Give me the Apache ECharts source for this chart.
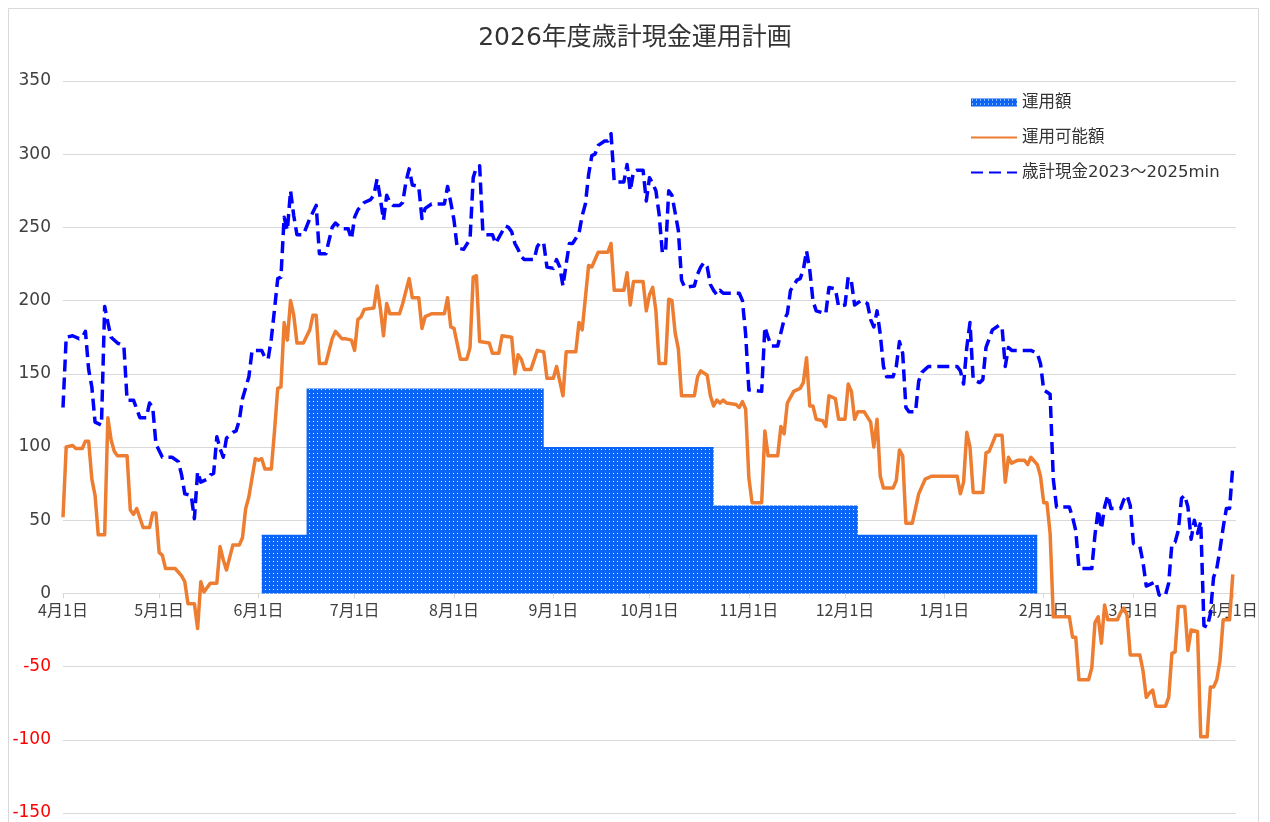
<!DOCTYPE html>
<html>
<head>
<meta charset="utf-8">
<title>2026年度歳計現金運用計画</title>
<script src="https://cdn.jsdelivr.net/npm/echarts@6/dist/echarts.min.js"></script>
<style>
  html, body { margin: 0; padding: 0; background: #fff; }
  #chart { width: 1270px; height: 822px; }
</style>
</head>
<body>
<div id="chart"></div>
<script>
// 日付は 2026年4月1日 からの経過日数
const startYear = 2026, startMonth = 3, startDay = 1;

// 運用額（階段状）
const opDays = [62, 76, 150, 203, 248, 304];
const opVals = [40, 140, 100, 60, 40, 40];

// 運用可能額
const availDays = [0, 1, 3, 4, 6, 7, 8, 9, 10, 11, 13, 14, 15, 16, 17, 20, 21, 22, 23, 25, 27, 28, 29, 30, 31, 32, 35, 37, 38, 39, 41, 42, 43, 44, 45, 46, 48, 49, 50, 51, 53, 55, 56, 57, 58, 60, 61, 62, 63, 65, 66, 67, 68, 69, 70, 71, 72, 73, 75, 77, 78, 79, 80, 82, 84, 85, 87, 88, 90, 91, 92, 93, 94, 97, 98, 99, 100, 101, 102, 105, 106, 108, 109, 111, 112, 113, 115, 119, 120, 121, 122, 124, 126, 127, 128, 129, 130, 133, 134, 136, 137, 140, 141, 142, 143, 144, 146, 148, 150, 151, 153, 154, 156, 157, 160, 161, 162, 164, 165, 167, 170, 171, 172, 175, 176, 177, 178, 181, 182, 183, 184, 185, 186, 188, 189, 190, 191, 192, 193, 197, 198, 199, 201, 202, 203, 204, 205, 206, 207, 210, 211, 212, 213, 214, 215, 218, 219, 220, 223, 224, 225, 226, 228, 230, 231, 232, 233, 234, 235, 237, 238, 239, 241, 242, 244, 245, 246, 247, 248, 250, 252, 253, 254, 255, 256, 259, 260, 261, 262, 263, 265, 267, 269, 271, 279, 280, 281, 282, 283, 284, 287, 288, 289, 291, 293, 294, 295, 296, 298, 300, 301, 302, 304, 305, 306, 307, 308, 309, 314, 315, 316, 317, 320, 321, 322, 323, 324, 325, 326, 329, 330, 331, 332, 333, 336, 337, 338, 339, 340, 341, 344, 345, 346, 347, 348, 350, 351, 352, 354, 355, 357, 358, 359, 360, 361, 362, 364, 365];
const availVals = [52, 100, 101, 99, 99, 104, 104, 78, 67, 40, 40, 120, 105, 97, 94, 94, 57, 54, 58, 45, 45, 55, 55, 28, 26, 17, 17, 12, 8, -7, -7, -24, 8, 1, 4, 7, 7, 32, 23, 16, 33, 33, 38, 58, 66, 92, 91, 92, 85, 85, 111, 140, 141, 185, 173, 200, 190, 171, 171, 180, 190, 190, 157, 157, 174, 179, 174, 174, 173, 166, 187, 189, 194, 195, 210, 195, 176, 198, 191, 191, 198, 215, 202, 202, 181, 189, 191, 191, 202, 182, 181, 160, 160, 168, 216, 217, 172, 171, 164, 164, 176, 175, 150, 163, 160, 153, 153, 166, 165, 147, 147, 155, 135, 165, 165, 185, 180, 224, 223, 233, 233, 239, 207, 207, 219, 197, 213, 213, 193, 204, 209, 193, 157, 157, 201, 200, 178, 167, 135, 135, 148, 152, 149, 135, 128, 132, 130, 132, 130, 129, 127, 131, 126, 79, 62, 62, 111, 94, 94, 114, 109, 130, 138, 140, 144, 161, 128, 128, 119, 118, 114, 135, 133, 119, 119, 143, 138, 119, 124, 124, 117, 100, 119, 80, 72, 72, 77, 98, 94, 48, 48, 68, 78, 80, 80, 68, 76, 110, 100, 69, 69, 96, 97, 108, 108, 76, 93, 89, 91, 91, 88, 93, 88, 80, 62, 62, 41, -16, -16, -30, -30, -59, -59, -51, -20, -16, -34, -8, -18, -18, -13, -10, -15, -42, -42, -53, -71, -68, -66, -77, -77, -71, -41, -40, -9, -9, -39, -25, -26, -98, -98, -64, -64, -59, -46, -18, -18, 13];

// 歳計現金2023～2025min
const cashDays = [0, 1, 3, 5, 6, 7, 8, 9, 10, 12, 13, 14, 15, 17, 19, 20, 22, 24, 26, 27, 28, 29, 31, 34, 36, 37, 38, 40, 41, 42, 43, 45, 46, 47, 48, 49, 50, 51, 53, 54, 55, 56, 58, 59, 62, 63, 64, 65, 66, 67, 68, 69, 70, 71, 72, 73, 75, 77, 79, 80, 82, 84, 85, 87, 89, 90, 91, 92, 94, 96, 97, 98, 99, 100, 101, 102, 103, 105, 106, 107, 108, 109, 111, 112, 113, 115, 119, 120, 121, 122, 123, 125, 127, 128, 129, 130, 131, 132, 134, 135, 136, 138, 139, 140, 141, 142, 143, 144, 147, 148, 149, 150, 151, 153, 154, 155, 156, 157, 158, 159, 161, 162, 163, 164, 165, 166, 167, 169, 170, 171, 172, 175, 176, 177, 178, 179, 181, 182, 183, 184, 185, 186, 187, 188, 189, 190, 192, 193, 194, 197, 198, 199, 200, 201, 202, 203, 204, 205, 206, 211, 212, 213, 214, 218, 219, 220, 221, 223, 225, 226, 227, 229, 230, 231, 232, 233, 234, 235, 238, 239, 241, 242, 244, 245, 246, 247, 249, 251, 252, 253, 254, 255, 256, 257, 259, 260, 261, 262, 263, 264, 266, 267, 268, 270, 279, 280, 281, 282, 283, 284, 286, 287, 288, 289, 290, 292, 293, 294, 295, 296, 302, 304, 305, 306, 308, 309, 310, 314, 315, 316, 317, 321, 322, 323, 324, 325, 326, 327, 330, 331, 332, 333, 334, 336, 337, 338, 340, 341, 342, 343, 344, 345, 346, 347, 348, 349, 350, 351, 352, 353, 354, 355, 356, 357, 358, 359, 360, 361, 362, 363, 364, 365];
const cashVals = [127, 175, 176, 174, 175, 179, 153, 141, 117, 115, 196, 185, 175, 171, 169, 132, 132, 120, 120, 130, 127, 102, 93, 93, 90, 81, 68, 67, 51, 83, 76, 78, 81, 82, 107, 99, 93, 106, 110, 111, 118, 133, 148, 166, 166, 161, 160, 174, 194, 215, 216, 257, 248, 275, 258, 245, 245, 256, 265, 232, 232, 250, 253, 249, 249, 242, 257, 262, 267, 269, 272, 283, 270, 255, 272, 267, 265, 265, 267, 281, 290, 279, 278, 256, 263, 266, 266, 278, 267, 255, 236, 235, 242, 284, 291, 292, 247, 245, 245, 239, 243, 251, 250, 247, 239, 235, 230, 228, 228, 237, 240, 239, 223, 222, 228, 223, 210, 225, 239, 239, 246, 258, 266, 286, 299, 300, 306, 309, 309, 314, 281, 281, 293, 275, 288, 289, 289, 268, 284, 280, 275, 259, 233, 233, 275, 272, 248, 214, 209, 210, 218, 223, 226, 223, 211, 207, 204, 207, 205, 205, 200, 177, 139, 138, 182, 175, 169, 169, 187, 191, 207, 214, 215, 221, 234, 221, 200, 193, 191, 209, 208, 196, 197, 216, 213, 197, 200, 198, 187, 182, 193, 177, 155, 148, 148, 155, 172, 164, 127, 124, 124, 145, 151, 155, 155, 152, 143, 168, 185, 146, 144, 146, 168, 174, 180, 183, 182, 155, 168, 166, 166, 164, 157, 139, 136, 78, 59, 59, 52, 43, 17, 17, 40, 57, 44, 59, 67, 58, 58, 64, 67, 60, 34, 32, 21, 5, 7, 8, -1, -2, -1, 7, 34, 35, 43, 65, 67, 59, 37, 50, 41, 49, -22, -23, -14, 11, 17, 30, 45, 58, 58, 87];

// 縦軸
const yMin = -150, yMax = 350, yStep = 50;

const gridTop = 81, gridBottom = 9, chartHeight = 822;
const gridHeight = chartHeight - gridTop - gridBottom;
// 横軸を0の位置に置く（ラベルごと）
const xAxisOffset = -gridHeight * (0 - yMin) / (yMax - yMin);

function dayToTime(d) {
  return new Date(startYear, startMonth, startDay + d).getTime();
}
function pairs(days, vals) {
  return days.map(function (d, i) { return [dayToTime(d), vals[i]]; });
}

// 運用額のドット模様
const pat = document.createElement('canvas');
pat.width = 4;
pat.height = 4;
const pctx = pat.getContext('2d');
pctx.fillStyle = '#0A64F5';
pctx.fillRect(0, 0, 4, 4);
pctx.fillStyle = '#ffffff';
pctx.fillRect(1, 1, 1, 1);
const dotFill = { image: pat, repeat: 'repeat' };

const noMarker = { color: 'rgba(0,0,0,0)', borderWidth: 0, opacity: 0 };

const chart = echarts.init(document.getElementById('chart'), null, { renderer: 'canvas' });

const option = {
  animation: false,
  backgroundColor: '#fff',
  textStyle: { fontFamily: '"DejaVu Sans", "Noto Sans CJK JP", sans-serif' },
  title: {
    text: '2026年度歳計現金運用計画',
    left: 'center',
    top: 21,
    textStyle: { fontSize: 25, fontWeight: 'normal', color: '#333' }
  },
  graphic: [{
    type: 'rect',
    shape: { x: 8.5, y: 8.5, width: 1250, height: 840 },
    style: { fill: 'none', stroke: '#d9d9d9', lineWidth: 1 },
    silent: true,
    z: -10
  }],
  legend: {
    orient: 'vertical',
    left: 970,
    top: 94,
    padding: 0,
    itemWidth: 46,
    itemHeight: 8,
    itemGap: 18,
    textStyle: { fontSize: 16.5, color: '#333', lineHeight: 17 },
    data: [
      { name: '運用額', icon: 'rect', itemStyle: { color: dotFill } },
      { name: '運用可能額', itemStyle: noMarker },
      { name: '歳計現金2023～2025min', itemStyle: noMarker }
    ]
  },
  grid: { left: 63, right: 34, top: gridTop, bottom: gridBottom, containLabel: false, outerBoundsMode: 'none' },
  xAxis: {
    type: 'time',
    min: dayToTime(0),
    max: dayToTime(366),
    splitNumber: 12,
    offset: xAxisOffset,
    axisLine: { onZero: false, lineStyle: { color: '#d9d9d9', width: 1 } },
    axisTick: { show: true, length: 5, lineStyle: { color: '#d9d9d9' } },
    splitLine: { show: false },
    axisLabel: {
      formatter: '{M}月{d}日',
      fontFamily: '"Noto Sans CJK JP", sans-serif',
      fontSize: 16,
      color: '#404040',
      margin: 9,
      showMinLabel: true,
      showMaxLabel: false,
      hideOverlap: false
    }
  },
  yAxis: {
    type: 'value',
    min: yMin,
    max: yMax,
    interval: yStep,
    axisLine: { show: false },
    axisTick: { show: false },
    splitLine: { lineStyle: { color: '#d9d9d9', width: 1 } },
    axisLabel: {
      fontSize: 17,
      margin: 12,
      color: function (v) { return v < 0 ? '#FF0000' : '#404040'; }
    }
  },
  series: [
    {
      name: '運用額',
      type: 'line',
      step: 'end',
      symbol: 'none',
      data: pairs(opDays, opVals),
      lineStyle: { width: 0 },
      itemStyle: { color: '#0A64F5' },
      areaStyle: { color: dotFill, opacity: 1 },
      z: 1
    },
    {
      name: '運用可能額',
      type: 'line',
      symbol: 'none',
      data: pairs(availDays, availVals),
      lineStyle: { color: '#ED7D31', width: 3.5, join: 'round' },
      itemStyle: { color: '#ED7D31' },
      z: 3
    },
    {
      name: '歳計現金2023～2025min',
      type: 'line',
      symbol: 'none',
      data: pairs(cashDays, cashVals),
      lineStyle: { color: '#0000FF', width: 3.5, type: [12, 6], cap: 'butt', join: 'round' },
      itemStyle: { color: '#0000FF' },
      z: 4
    }
  ]
};

chart.setOption(option);
</script>
</body>
</html>
